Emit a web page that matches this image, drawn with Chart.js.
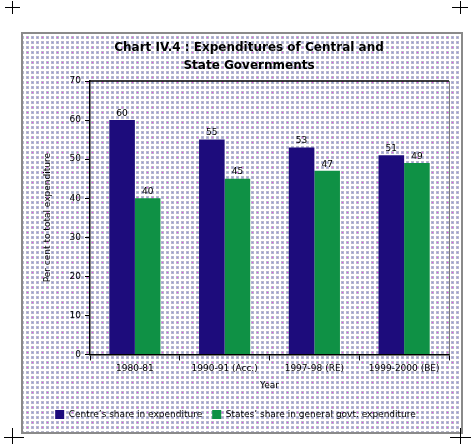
<!DOCTYPE html>
<html>
<head>
<meta charset="utf-8">
<script src="https://cdn.jsdelivr.net/npm/chart.js@4/dist/chart.umd.min.js"></script>
<style>
  html, body { margin: 0; padding: 0; background: #fff; }
  canvas { display: block; }
</style>
</head>
<body>
<canvas id="expChart" width="471" height="444"></canvas>
<script>
// Datos: participación en el gasto total (%)
var years = ['1980-81', '1990-91 (Acc.)', '1997-98 (RE)', '1999-2000 (BE)'];
var centreShare = [60, 55, 53, 51];
var stateShare = [40, 45, 47, 49];
var titleLines = ['Chart IV.4 : Expenditures of Central and', 'State Governments'];
var seriesNames = ['Centre\u2019s share in expenditure', 'States\u2019 share in general govt. expenditure'];
var yAxisTitle = 'Per cent to total expenditure';
var xAxisTitle = 'Year';

var FONT = '"DejaVu Sans", sans-serif';

// Textura punteada del fondo
function makeDotPattern(ctx) {
    var tile = document.createElement('canvas');
    tile.width = 15;
    tile.height = 15;
    var t = tile.getContext('2d');
    t.fillStyle = '#ffffff';
    t.fillRect(0, 0, 15, 15);
    for (var i = 0; i < 3; i++) {
        for (var j = 0; j < 3; j++) {
            t.fillStyle = '#b8b8cc';
            t.fillRect(i * 5 + 1, j * 5 + 1, 3, 3);
            t.fillStyle = '#9494e0';
            t.fillRect(i * 5 + 2, j * 5 + 2, 1, 1);
        }
    }
    t.fillStyle = '#f040f0';
    t.fillRect(2, 2, 1, 1);
    t.fillRect(12, 7, 1, 1);
    return ctx.createPattern(tile, 'repeat');
}

var backdrop = {
    id: 'backdrop',
    beforeDraw: function (chart) {
        var ctx = chart.ctx;
        ctx.save();
        ctx.fillStyle = '#ffffff';
        ctx.fillRect(0, 0, chart.width, chart.height);
        ctx.fillStyle = makeDotPattern(ctx);
        ctx.fillRect(22, 33, 440, 400);
        ctx.strokeStyle = '#8a8a8a';
        ctx.lineWidth = 2;
        ctx.strokeRect(22, 33, 440, 400);

        // marcas de esquina
        ctx.strokeStyle = '#000';
        ctx.lineWidth = 1;
        ctx.beginPath();
        ctx.moveTo(5, 7.5); ctx.lineTo(20, 7.5);
        ctx.moveTo(12.5, 1); ctx.lineTo(12.5, 14);
        ctx.moveTo(452, 7.5); ctx.lineTo(468, 7.5);
        ctx.moveTo(460.5, 1); ctx.lineTo(460.5, 14);
        ctx.moveTo(4, 437.5); ctx.lineTo(24, 437.5);
        ctx.moveTo(12.5, 428); ctx.lineTo(12.5, 444);
        ctx.moveTo(450, 437.5); ctx.lineTo(471, 437.5);
        ctx.moveTo(460.5, 428); ctx.lineTo(460.5, 444);
        ctx.stroke();

        // título en dos líneas
        ctx.fillStyle = '#000';
        ctx.font = 'bold 12px ' + FONT;
        ctx.textAlign = 'center';
        ctx.textBaseline = 'middle';
        ctx.fillText(titleLines[0], 249, 48);
        ctx.fillText(titleLines[1], 249, 66);
        ctx.restore();
    },
    afterDraw: function (chart) {
        var a = chart.chartArea;
        var ctx = chart.ctx;
        ctx.save();
        ctx.strokeStyle = '#000';
        ctx.lineWidth = 1.5;
        ctx.beginPath();
        ctx.moveTo(a.left, a.top);
        ctx.lineTo(a.right, a.top);
        ctx.stroke();
        ctx.strokeStyle = '#7a7a7a';
        ctx.lineWidth = 1;
        ctx.beginPath();
        ctx.moveTo(a.right + 0.5, a.top);
        ctx.lineTo(a.right + 0.5, a.bottom);
        ctx.stroke();
        ctx.restore();
    }
};

// Etiquetas de valor sobre cada barra
var valueLabels = {
    id: 'valueLabels',
    afterDatasetsDraw: function (chart) {
        var ctx = chart.ctx;
        ctx.save();
        ctx.fillStyle = '#000';
        ctx.font = '9px ' + FONT;
        ctx.textAlign = 'center';
        ctx.textBaseline = 'bottom';
        chart.data.datasets.forEach(function (ds, i) {
            chart.getDatasetMeta(i).data.forEach(function (bar, k) {
                ctx.fillText(ds.data[k], bar.x, bar.y - 2);
            });
        });
        ctx.restore();
    }
};

new Chart(document.getElementById('expChart'), {
    type: 'bar',
    data: {
        labels: years,
        datasets: [
            {
                label: seriesNames[0],
                data: centreShare,
                backgroundColor: '#1d0c7c',
                categoryPercentage: 0.57,
                barPercentage: 1.0
            },
            {
                label: seriesNames[1],
                data: stateShare,
                backgroundColor: '#0f9145',
                categoryPercentage: 0.57,
                barPercentage: 1.0
            }
        ]
    },
    options: {
        responsive: false,
        animation: false,
        layout: { padding: { top: 81, left: 22, right: 22, bottom: 15 } },
        plugins: {
            title: { display: false },
            tooltip: { enabled: false },
            legend: {
                position: 'bottom',
                labels: {
                    boxWidth: 9,
                    boxHeight: 9,
                    padding: 10,
                    color: '#000',
                    font: { family: FONT, size: 9 }
                }
            }
        },
        scales: {
            x: {
                grid: {
                    display: true,
                    drawOnChartArea: false,
                    color: '#000',
                    tickLength: 6,
                    offset: true
                },
                border: { color: '#000', width: 1.5 },
                ticks: {
                    color: '#000',
                    padding: 3,
                    font: { family: FONT, size: 9 }
                },
                title: {
                    display: true,
                    text: xAxisTitle,
                    color: '#000',
                    padding: { top: 3, bottom: 9 },
                    font: { family: FONT, size: 9 }
                }
            },
            y: {
                min: 0,
                max: 70,
                afterFit: function (scale) { scale.width = 68; },
                grid: {
                    display: true,
                    drawOnChartArea: false,
                    color: '#000',
                    tickLength: 5
                },
                border: { color: '#000', width: 1.5 },
                ticks: {
                    stepSize: 10,
                    color: '#000',
                    padding: 4,
                    font: { family: FONT, size: 9 }
                },
                title: {
                    display: true,
                    text: yAxisTitle,
                    color: '#000',
                    padding: { top: 20, bottom: 0 },
                    font: { family: FONT, size: 9 }
                }
            }
        }
    },
    plugins: [backdrop, valueLabels]
});
</script>
</body>
</html>
